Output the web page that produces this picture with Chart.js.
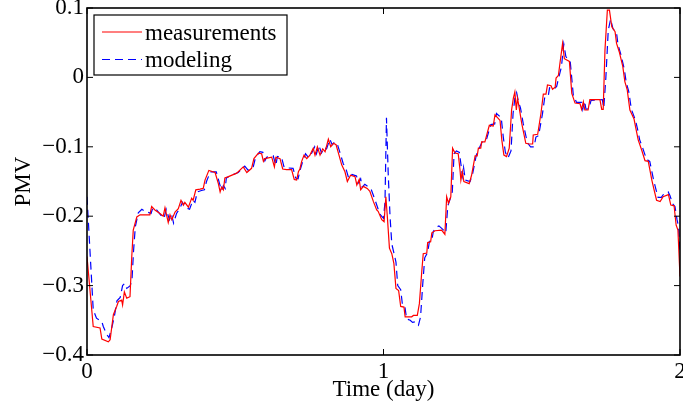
<!DOCTYPE html>
<html>
<head>
<meta charset="utf-8">
<script src="https://cdn.jsdelivr.net/npm/chart.js@4/dist/chart.umd.min.js"></script>
<style>
html,body{margin:0;padding:0;background:#fff;}
#wrap{width:683px;height:412px;}
</style>
</head>
<body>
<div id="wrap"><canvas id="c" width="683" height="412"></canvas></div>
<script>
// ---- data (time in days, PMV) ----
const measTime = [0.000,0.021,0.044,0.050,0.072,0.078,0.089,0.100,0.106,0.117,0.120,0.126,0.134,0.145,0.151,0.156,0.168,0.179,0.212,0.218,0.229,0.246,0.257,0.263,0.274,0.280,0.286,0.297,0.308,0.317,0.325,0.330,0.342,0.353,0.358,0.367,0.381,0.392,0.398,0.411,0.432,0.443,0.449,0.454,0.460,0.465,0.477,0.505,0.527,0.539,0.555,0.563,0.578,0.589,0.595,0.600,0.623,0.632,0.637,0.651,0.660,0.673,0.690,0.699,0.707,0.713,0.718,0.724,0.732,0.741,0.752,0.763,0.769,0.777,0.786,0.795,0.803,0.814,0.822,0.831,0.840,0.848,0.859,0.870,0.878,0.889,0.904,0.910,0.918,0.923,0.932,0.945,0.954,0.966,0.977,0.982,0.994,1.002,1.008,1.013,1.020,1.028,1.035,1.042,1.051,1.058,1.069,1.073,1.095,1.101,1.114,1.121,1.129,1.134,1.146,1.149,1.159,1.163,1.174,1.196,1.207,1.213,1.219,1.227,1.233,1.241,1.252,1.258,1.261,1.266,1.271,1.289,1.297,1.309,1.316,1.320,1.328,1.331,1.342,1.350,1.357,1.370,1.376,1.393,1.399,1.406,1.415,1.424,1.432,1.438,1.443,1.448,1.452,1.457,1.466,1.480,1.491,1.503,1.505,1.520,1.531,1.539,1.548,1.553,1.565,1.570,1.579,1.582,1.590,1.595,1.604,1.610,1.627,1.635,1.646,1.663,1.668,1.674,1.679,1.690,1.696,1.730,1.736,1.741,1.747,1.755,1.762,1.770,1.781,1.786,1.795,1.807,1.814,1.822,1.831,1.845,1.851,1.859,1.871,1.882,1.893,1.905,1.912,1.921,1.933,1.943,1.961,1.969,1.980,1.987,1.993,2.000];
const measPMV = [-0.258,-0.359,-0.361,-0.377,-0.381,-0.378,-0.342,-0.330,-0.323,-0.321,-0.328,-0.309,-0.318,-0.316,-0.258,-0.220,-0.201,-0.198,-0.198,-0.186,-0.191,-0.196,-0.200,-0.188,-0.209,-0.198,-0.205,-0.194,-0.189,-0.177,-0.184,-0.180,-0.187,-0.174,-0.177,-0.162,-0.161,-0.160,-0.148,-0.134,-0.137,-0.153,-0.165,-0.158,-0.162,-0.145,-0.143,-0.138,-0.129,-0.137,-0.131,-0.117,-0.109,-0.110,-0.121,-0.117,-0.115,-0.129,-0.115,-0.117,-0.132,-0.133,-0.133,-0.147,-0.148,-0.136,-0.132,-0.121,-0.112,-0.117,-0.112,-0.102,-0.112,-0.100,-0.112,-0.103,-0.107,-0.089,-0.100,-0.095,-0.097,-0.109,-0.126,-0.136,-0.150,-0.141,-0.143,-0.155,-0.147,-0.162,-0.157,-0.160,-0.164,-0.179,-0.191,-0.193,-0.205,-0.208,-0.172,-0.201,-0.246,-0.254,-0.268,-0.304,-0.307,-0.330,-0.331,-0.345,-0.345,-0.343,-0.343,-0.326,-0.280,-0.254,-0.253,-0.238,-0.237,-0.224,-0.221,-0.220,-0.226,-0.172,-0.181,-0.172,-0.102,-0.109,-0.110,-0.133,-0.148,-0.136,-0.150,-0.153,-0.141,-0.113,-0.113,-0.102,-0.102,-0.093,-0.093,-0.080,-0.069,-0.070,-0.054,-0.062,-0.090,-0.112,-0.114,-0.102,-0.047,-0.030,-0.021,-0.047,-0.030,-0.042,-0.066,-0.095,-0.096,-0.096,-0.083,-0.082,-0.052,-0.024,-0.024,-0.011,-0.012,-0.017,-0.014,-0.001,0.003,0.020,0.049,0.027,0.023,-0.023,-0.037,-0.038,-0.046,-0.035,-0.047,-0.047,-0.032,-0.032,-0.046,-0.046,0.040,0.097,0.097,0.073,0.066,0.049,0.037,0.016,-0.006,-0.018,-0.047,-0.060,-0.073,-0.090,-0.105,-0.120,-0.121,-0.148,-0.161,-0.177,-0.179,-0.172,-0.169,-0.184,-0.185,-0.213,-0.220,-0.287];

const modelTime = [0.000,0.008,0.021,0.032,0.050,0.055,0.066,0.074,0.083,0.092,0.101,0.112,0.120,0.127,0.134,0.146,0.152,0.157,0.163,0.173,0.185,0.196,0.216,0.222,0.233,0.250,0.260,0.267,0.278,0.285,0.292,0.302,0.313,0.322,0.330,0.346,0.357,0.364,0.372,0.386,0.396,0.403,0.416,0.436,0.447,0.454,0.460,0.466,0.470,0.482,0.510,0.532,0.544,0.560,0.568,0.583,0.593,0.600,0.606,0.628,0.637,0.642,0.656,0.665,0.695,0.704,0.712,0.719,0.729,0.737,0.746,0.757,0.768,0.774,0.782,0.791,0.800,0.808,0.819,0.827,0.836,0.845,0.853,0.864,0.875,0.883,0.894,0.909,0.915,0.923,0.928,0.937,0.950,0.959,0.971,0.982,0.990,1.000,1.005,1.010,1.016,1.022,1.028,1.035,1.042,1.048,1.058,1.064,1.072,1.078,1.090,1.098,1.110,1.118,1.125,1.132,1.139,1.149,1.155,1.163,1.168,1.178,1.187,1.200,1.210,1.217,1.224,1.232,1.238,1.246,1.256,1.262,1.266,1.270,1.276,1.292,1.301,1.313,1.325,1.334,1.347,1.355,1.362,1.375,1.381,1.397,1.404,1.411,1.420,1.430,1.437,1.443,1.449,1.455,1.462,1.471,1.485,1.496,1.508,1.514,1.523,1.536,1.544,1.556,1.560,1.575,1.584,1.590,1.600,1.608,1.615,1.630,1.640,1.651,1.668,1.672,1.678,1.683,1.693,1.700,1.738,1.743,1.750,1.758,1.766,1.774,1.786,1.791,1.800,1.812,1.819,1.827,1.836,1.850,1.857,1.864,1.876,1.887,1.898,1.910,1.918,1.926,1.937,1.945,1.960,1.966,1.975,1.983,1.990,1.995,2.000];
const modelPMV = [-0.172,-0.234,-0.335,-0.347,-0.352,-0.359,-0.370,-0.375,-0.362,-0.345,-0.322,-0.317,-0.300,-0.297,-0.304,-0.300,-0.290,-0.250,-0.215,-0.195,-0.190,-0.193,-0.196,-0.188,-0.190,-0.199,-0.203,-0.190,-0.205,-0.197,-0.210,-0.196,-0.189,-0.180,-0.187,-0.190,-0.177,-0.180,-0.165,-0.163,-0.162,-0.150,-0.136,-0.136,-0.153,-0.163,-0.156,-0.160,-0.145,-0.142,-0.137,-0.128,-0.134,-0.130,-0.116,-0.107,-0.108,-0.120,-0.115,-0.113,-0.127,-0.114,-0.115,-0.130,-0.131,-0.145,-0.146,-0.133,-0.119,-0.110,-0.115,-0.110,-0.100,-0.110,-0.098,-0.109,-0.101,-0.103,-0.089,-0.097,-0.093,-0.097,-0.108,-0.124,-0.134,-0.146,-0.140,-0.142,-0.152,-0.146,-0.158,-0.154,-0.158,-0.162,-0.176,-0.190,-0.198,-0.203,-0.180,-0.058,-0.140,-0.200,-0.240,-0.253,-0.266,-0.300,-0.306,-0.328,-0.330,-0.348,-0.350,-0.353,-0.352,-0.357,-0.345,-0.300,-0.260,-0.252,-0.236,-0.235,-0.222,-0.216,-0.214,-0.219,-0.224,-0.185,-0.176,-0.165,-0.110,-0.106,-0.108,-0.128,-0.142,-0.130,-0.148,-0.150,-0.138,-0.112,-0.100,-0.092,-0.090,-0.078,-0.068,-0.067,-0.052,-0.058,-0.086,-0.108,-0.116,-0.106,-0.052,-0.030,-0.022,-0.035,-0.044,-0.066,-0.094,-0.100,-0.100,-0.086,-0.084,-0.053,-0.028,-0.026,-0.015,-0.017,-0.013,-0.002,0.015,0.048,0.030,0.022,-0.025,-0.036,-0.036,-0.046,-0.034,-0.046,-0.045,-0.033,-0.032,-0.044,0.000,0.068,0.084,0.070,0.064,0.047,0.034,0.012,-0.008,-0.020,-0.046,-0.062,-0.075,-0.090,-0.104,-0.118,-0.121,-0.146,-0.160,-0.173,-0.173,-0.168,-0.165,-0.170,-0.182,-0.186,-0.205,-0.215,-0.253];

const xTicks = [0, 1, 2];
const yTicks = [-0.4, -0.3, -0.2, -0.1, 0, 0.1];
const seriesLabels = ['measurements', 'modeling'];
const xTitle = 'Time (day)';
const yTitle = 'PMV';

// ---- rendering ----
const FONT = 'Liberation Serif, Times New Roman, serif';
const fmtY = v => Math.abs(v) < 1e-9 ? '0' : (v < 0 ? '\u2212' + Math.abs(v).toFixed(1) : v.toFixed(1));

const boxPlugin = {
  id: 'matlabBox',
  afterDraw(chart) {
    const {ctx, chartArea: a, scales} = chart;
    ctx.save();
    ctx.strokeStyle = '#000';
    ctx.lineWidth = 1;
    const L = 6;
    ctx.beginPath();
    xTicks.forEach(t => {
      const px = scales.x.getPixelForValue(t);
      ctx.moveTo(px, a.bottom); ctx.lineTo(px, a.bottom - L);
      ctx.moveTo(px, a.top); ctx.lineTo(px, a.top + L);
    });
    yTicks.forEach(t => {
      const py = scales.y.getPixelForValue(t);
      ctx.moveTo(a.left, py); ctx.lineTo(a.left + L, py);
      ctx.moveTo(a.right, py); ctx.lineTo(a.right - L, py);
    });
    ctx.stroke();
    ctx.lineWidth = 1.6;
    ctx.strokeRect(a.left, a.top, a.right - a.left, a.bottom - a.top);

    // legend inside axes
    const lx = a.left + 7, ly = a.top + 7, lw = 193, lh = 60;
    ctx.fillStyle = '#fff';
    ctx.fillRect(lx, ly, lw, lh);
    ctx.lineWidth = 1.2;
    ctx.strokeRect(lx, ly, lw, lh);
    chart.data.datasets.forEach((ds, i) => {
      const yy = ly + 17 + i * 27.5;
      ctx.beginPath();
      ctx.strokeStyle = ds.borderColor;
      ctx.lineWidth = 1.2;
      ctx.setLineDash(ds.borderDash || []);
      ctx.moveTo(lx + 8, yy); ctx.lineTo(lx + 48, yy);
      ctx.stroke();
      ctx.setLineDash([]);
      ctx.fillStyle = '#000';
      ctx.font = '23px ' + FONT;
      ctx.textBaseline = 'alphabetic';
      ctx.textAlign = 'left';
      ctx.fillText(ds.label, lx + 51, yy + 7.5);
    });
    ctx.restore();
  }
};

const toPts = (xs, ys) => xs.map((x, i) => ({x: x, y: ys[i]}));

new Chart(document.getElementById('c'), {
  type: 'line',
  data: {
    datasets: [
      {label: seriesLabels[0], data: toPts(measTime, measPMV), borderColor: '#ff0000', borderWidth: 1.2, pointRadius: 0, tension: 0, fill: false},
      {label: seriesLabels[1], data: toPts(modelTime, modelPMV), borderColor: '#0000ff', borderWidth: 1.2, borderDash: [8, 5], pointRadius: 0, tension: 0, fill: false}
    ]
  },
  options: {
    responsive: false,
    devicePixelRatio: 1,
    animation: false,
    layout: {padding: {top: 8, right: 3, left: 0, bottom: 0}},
    plugins: {legend: {display: false}, tooltip: {enabled: false}},
    scales: {
      x: {
        type: 'linear', min: 0, max: 2,
        afterBuildTicks: s => { s.ticks = xTicks.map(v => ({value: v})); },
        afterFit: s => { s.height = 57; s.paddingLeft = 0; s.paddingRight = 0; },
        ticks: {color: '#000', font: {family: FONT, size: 23}, padding: 3, maxRotation: 0, autoSkip: false, callback: v => String(v)},
        grid: {display: false, drawTicks: false},
        border: {display: false},
        title: {display: true, text: xTitle, color: '#000', font: {family: FONT, size: 23}, padding: {top: 0, bottom: 8}}
      },
      y: {
        type: 'linear', min: -0.4, max: 0.1,
        afterBuildTicks: s => { s.ticks = yTicks.map(v => ({value: v})); },
        afterFit: s => { s.width = 87; s.paddingTop = 0; s.paddingBottom = 0; },
        ticks: {color: '#000', font: {family: FONT, size: 23}, padding: 3, autoSkip: false, callback: v => fmtY(v)},
        grid: {display: false, drawTicks: false},
        border: {display: false},
        title: {display: true, text: yTitle, color: '#000', font: {family: FONT, size: 23}, padding: {top: 10, bottom: 0}}
      }
    }
  },
  plugins: [boxPlugin]
});
</script>
</body>
</html>
